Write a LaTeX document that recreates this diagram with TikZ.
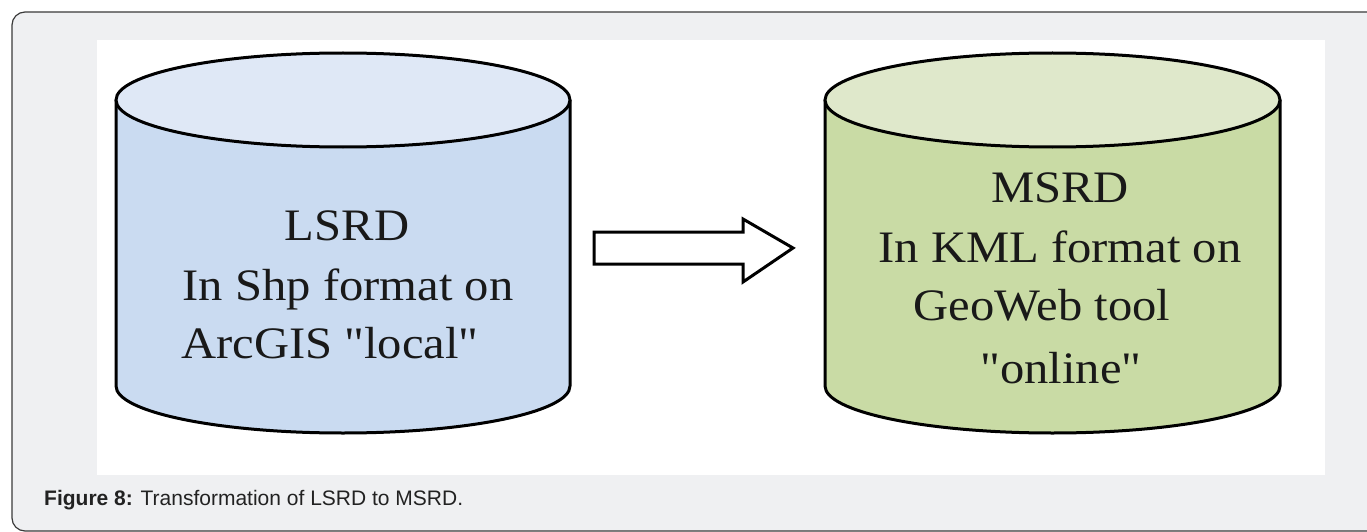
\documentclass[tikz,border=0pt]{standalone}
\usepackage{fontspec}
\setmainfont{Liberation Serif}
\newfontfamily\capfont{Liberation Sans}
\newfontfamily\cylfont[FakeStretch=1.08]{Liberation Serif}
\definecolor{pagebg}{HTML}{EFF0F2}
\definecolor{framecol}{HTML}{3A3A3A}
\definecolor{bluetop}{HTML}{DFE8F6}
\definecolor{blueside}{HTML}{CADBF1}
\definecolor{greentop}{HTML}{DFE8CB}
\definecolor{greenside}{HTML}{C9DBA5}
\definecolor{captext}{HTML}{222222}
\tikzset{
  cylline/.style={draw=black, line width=3pt},
  cyltext/.style={anchor=base, inner sep=0pt, font=\cylfont\fontsize{45}{54}\selectfont, text=black!90},
  blockarrow/.style={draw=black, line width=3pt, fill=white, line join=miter},
}
\begin{document}
\begin{tikzpicture}[x=1pt,y=-1pt]
\useasboundingbox (0,0) rectangle (1367,532);
% outer frame
\draw[framecol, fill=pagebg, line width=1.2pt, rounded corners=13pt] (12,12) rectangle (1395,531);
% white panel
\fill[white] (97,40) rectangle (1325,475);
% left cylinder
\fill[blueside] (116,100) -- (116,386) arc[start angle=180, end angle=0, x radius=227, y radius=47] -- (570,100) -- cycle;
\draw[cylline] (116,100) -- (116,386) arc[start angle=180, end angle=0, x radius=227, y radius=47] -- (570,100);
\draw[cylline, fill=bluetop] (343,100) ellipse[x radius=227, y radius=47];
\coordinate (lcyl) at (570,248);
% right cylinder
\fill[greenside] (825,100) -- (825,386) arc[start angle=180, end angle=0, x radius=227.5, y radius=47] -- (1280,100) -- cycle;
\draw[cylline] (825,100) -- (825,386) arc[start angle=180, end angle=0, x radius=227.5, y radius=47] -- (1280,100);
\draw[cylline, fill=greentop] (1052.5,100) ellipse[x radius=227.5, y radius=47];
\coordinate (rcyl) at (825,248);
% texts left
\node[cyltext] (l1) at (347,240) {LSRD};
\node[cyltext] (l2) at (348,300) {In Shp format on};
\node[cyltext] (l3) at (330,358) {ArcGIS "local"};
% texts right
\node[cyltext] (r1) at (1060,202) {MSRD};
\node[cyltext] (r2) at (1060,262) {In KML format on};
\node[cyltext] (r3) at (1042,320) {GeoWeb tool};
\node[cyltext] (r4) at (1061,383) {"online"};
% block arrow
\draw[blockarrow] (594,232) -- (743,232) -- (743,219) -- (793,248) -- (743,282) -- (743,264) -- (594,264) -- cycle;
% caption
\node[anchor=base west, inner sep=0pt, text=captext, font=\capfont\fontsize{21}{24}\selectfont] (cap) at (44,505) {\textbf{Figure 8:} Transformation of LSRD to MSRD.};
\end{tikzpicture}
\end{document}
